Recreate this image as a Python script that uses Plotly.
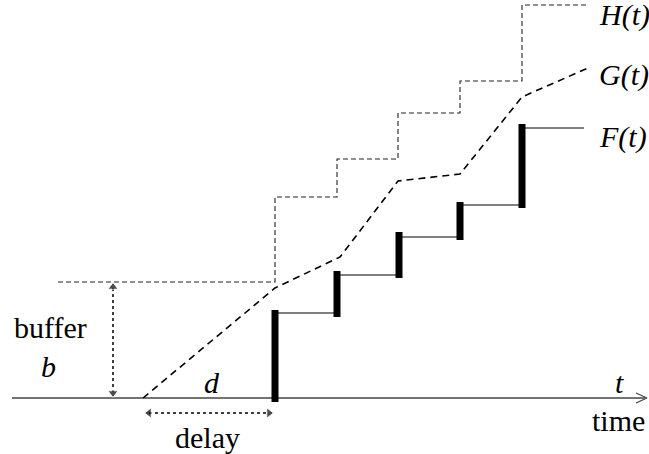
import plotly.graph_objects as go

# Diagram data (x = time position, y = cumulative amount; drawn on a pixel-like scale)
baseline_y = 398
axis_x = [12, 645]

step_times = [275, 337, 399, 460, 522]
F_tops = [310, 271, 232, 202, 124]
F_bottoms = [402, 317, 278, 240, 208]
F_levels = [313, 275, 237, 205, 128]
F_end = 584

H_x = [58, 275, 275, 337, 337, 398, 398, 460, 460, 522, 522, 589]
H_y = [282, 282, 197, 197, 159, 159, 113, 113, 81, 81, 5, 5]

G_x = [143, 275, 340, 398, 460, 522, 588]
G_y = [398, 288, 257, 181, 174, 97, 68]

buffer_x = 113
buffer_y = [282, 398]
delay_x = [143, 275]
delay_y = 413

FONT = "serif"
FS = 30

fig = go.Figure()

# time axis
fig.add_trace(go.Scatter(x=axis_x, y=[baseline_y, baseline_y], mode="lines",
                         line=dict(color="#444", width=1.5), hoverinfo="skip"))
fig.add_trace(go.Scatter(x=[636, 647, 636], y=[baseline_y - 5, baseline_y, baseline_y + 5],
                         mode="lines", line=dict(color="#444", width=1.2), hoverinfo="skip"))

# H(t)
fig.add_trace(go.Scatter(x=H_x, y=H_y, mode="lines",
                         line=dict(color="#222", width=1.1, dash="5px,3px"), hoverinfo="skip"))
# G(t)
fig.add_trace(go.Scatter(x=G_x, y=G_y, mode="lines",
                         line=dict(color="black", width=1.6, dash="7px,5px"), hoverinfo="skip"))

# F(t) horizontal segments
Fx, Fy = [], []
ends = step_times[1:] + [F_end]
for t0, t1, lv in zip(step_times, ends, F_levels):
    Fx += [t0, t1, None]
    Fy += [lv, lv, None]
fig.add_trace(go.Scatter(x=Fx, y=Fy, mode="lines", line=dict(color="black", width=1),
                         hoverinfo="skip"))
# F(t) thick bars
Bx, By = [], []
for t, top, bot in zip(step_times, F_tops, F_bottoms):
    Bx += [t, t, None]
    By += [bot, top, None]
fig.add_trace(go.Scatter(x=Bx, y=By, mode="lines", line=dict(color="black", width=7),
                         hoverinfo="skip"))

# buffer dotted arrow
fig.add_trace(go.Scatter(x=[buffer_x, buffer_x], y=[buffer_y[0] + 6, buffer_y[1] - 6], mode="lines",
                         line=dict(color="black", width=1.5, dash="dot"), hoverinfo="skip"))
fig.add_trace(go.Scatter(x=[buffer_x, buffer_x], y=[buffer_y[0] + 5, buffer_y[1] - 5], mode="markers",
                         marker=dict(symbol=["triangle-up", "triangle-down"], size=[9, 9],
                                     color="black"), hoverinfo="skip"))
# delay dotted arrow
fig.add_trace(go.Scatter(x=[delay_x[0] + 6, delay_x[1] - 6], y=[delay_y, delay_y], mode="lines",
                         line=dict(color="black", width=1.5, dash="dot"), hoverinfo="skip"))
fig.add_trace(go.Scatter(x=[delay_x[0] + 6, delay_x[1] - 6], y=[delay_y, delay_y], mode="markers",
                         marker=dict(symbol=["triangle-left", "triangle-right"], size=[9, 9],
                                     color="black"), hoverinfo="skip"))

labels = [
    ("<i>H(t)</i>", 597, 15, "left"),
    ("<i>G(t)</i>", 597, 75, "left"),
    ("<i>F(t)</i>", 597, 137, "left"),
    ("buffer", 50, 327, "center"),
    ("<i>b</i>", 48, 366, "center"),
    ("<i>d</i>", 212, 382, "center"),
    ("<i>t</i>", 619, 382, "center"),
    ("time", 618, 420, "center"),
    ("delay", 207, 437, "center"),
]
for txt, x, y, anc in labels:
    fig.add_annotation(x=x, y=y, text=txt, showarrow=False, xanchor=anc, yanchor="middle",
                       font=dict(family=FONT, size=FS, color="black"))

fig.update_layout(
    width=649, height=454, margin=dict(l=0, r=0, t=0, b=0),
    paper_bgcolor="white", plot_bgcolor="white", showlegend=False,
    font=dict(family=FONT),
    xaxis=dict(range=[0, 649], visible=False, fixedrange=True),
    yaxis=dict(range=[454, 0], visible=False, fixedrange=True),
)
fig.write_html("out.html")
